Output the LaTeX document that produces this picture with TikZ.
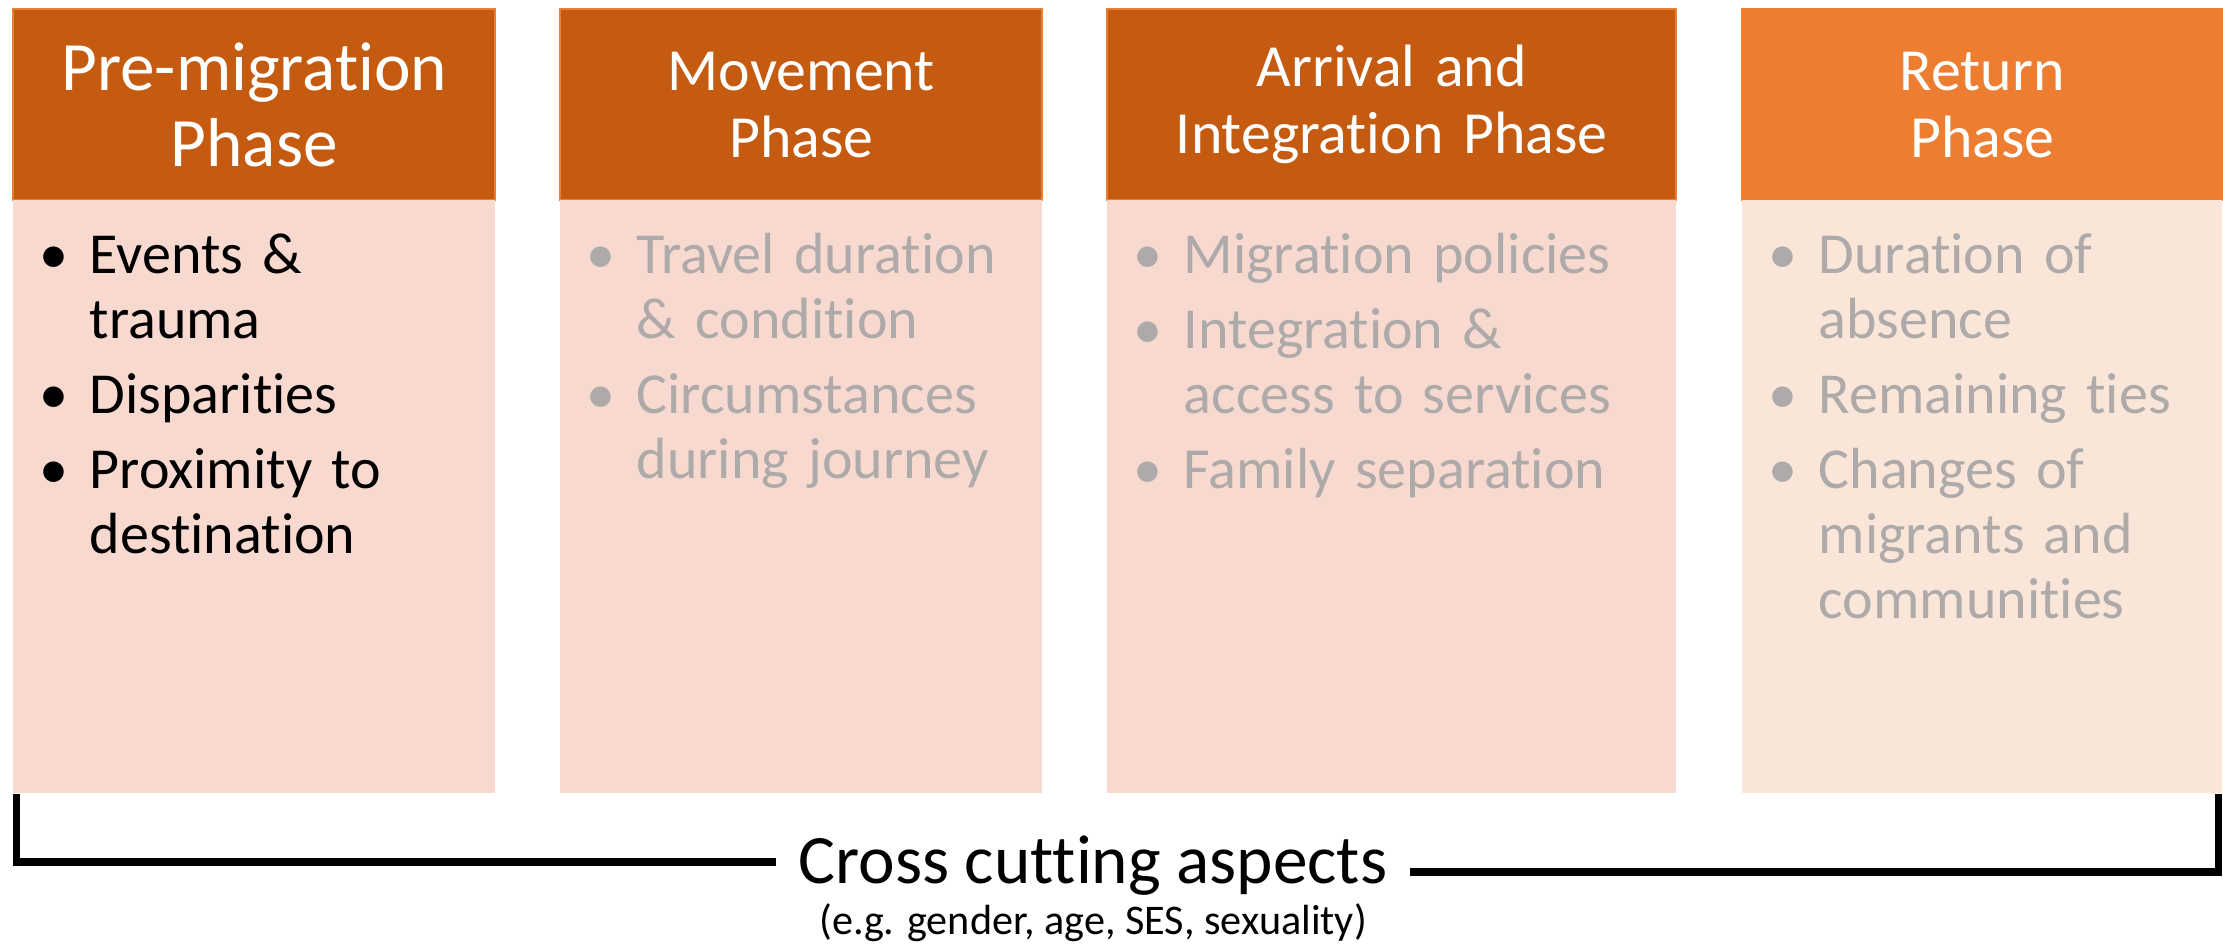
\documentclass[tikz,border=0pt]{standalone}
\usepackage{fontspec}
\setmainfont{Carlito}[Ligatures=NoCommon]

\definecolor{phasedark}{HTML}{C55A11}
\definecolor{phaselight}{HTML}{ED7D31}
\definecolor{bodypink}{HTML}{F8D9D0}
\definecolor{bodypeach}{HTML}{FAE6D9}
\definecolor{itemgray}{HTML}{AEAAAA}

% one bullet point with hanging indent
\newcommand{\bitem}[1]{\hangindent=0.77cm\hangafter=1\noindent\rlap{\makebox[0.82cm]{\textbullet}}\hspace{0.77cm}#1\par}

\begin{document}
\begin{tikzpicture}[x=0.01cm, y=-0.01cm,
	phasehead/.style={fill=phasedark, draw=phaselight, line width=0.6pt, text=white, align=center, inner sep=0pt, anchor=north west, minimum height=1.91cm},
	phasebody/.style={fill=bodypink, inner sep=0pt, anchor=north west, minimum height=5.93cm},
	itemlist/.style={anchor=base west, inner sep=0pt, text width=5.6cm, align=left, font=\fontsize{16.5}{18.5}\selectfont, execute at begin node=\setlength{\parskip}{0.1cm}},
	bracket/.style={line width=2.1pt}]

	% keep the margins of the page
	\useasboundingbox (0,0) rectangle (2223,947);

	% Pre-migration phase
	\node[phasehead, minimum width=4.82cm, text width=4.7cm, font=\fontsize{19.7}{21.6}\selectfont] (h1) at (12,8) {Pre-migration\\Phase};
	\node[phasebody, minimum width=4.82cm] (b1) at (12,199) {};
	\node[itemlist] (t1) at ([yshift=-0.74cm]b1.north west) {\bitem{Events \&\newline trauma}\bitem{Disparities}\bitem{Proximity to\newline destination}};

	% Movement phase
	\node[phasehead, minimum width=4.82cm, text width=4.7cm, font=\fontsize{17}{19.1}\selectfont] (h2) at (559,8) {Movement\\Phase};
	\node[phasebody, minimum width=4.82cm] (b2) at (559,199) {};
	\node[itemlist, text=itemgray] (t2) at ([yshift=-0.74cm]b2.north west) {\bitem{Travel duration\newline\& condition}\bitem{Circumstances\newline during journey}};

	% Arrival and integration phase
	\node[phasehead, minimum width=5.69cm, text width=5.6cm, font=\fontsize{17}{19.1}\selectfont] (h3) at (1106,8) {Arrival and\\Integration Phase};
	\node[phasebody, minimum width=5.69cm] (b3) at (1106,199) {};
	\node[itemlist, text=itemgray] (t3) at ([yshift=-0.74cm]b3.north west) {\bitem{Migration policies}\bitem{Integration \&\newline access to services}\bitem{Family separation}};

	% Return phase
	\node[phasehead, fill=phaselight, minimum width=4.80cm, text width=4.7cm, font=\fontsize{17}{19.1}\selectfont] (h4) at (1741,8) {Return\\Phase};
	\node[phasebody, fill=bodypeach, minimum width=4.80cm] (b4) at (1741,199) {};
	\node[itemlist, text=itemgray] (t4) at ([yshift=-0.74cm]b4.north west) {\bitem{Duration of\newline absence}\bitem{Remaining ties}\bitem{Changes of\newline migrants and\newline communities}};

	% Cross cutting aspects bracket
	\node[font=\fontsize{19.7}{23}\selectfont, inner ysep=0pt, inner xsep=0.22cm, anchor=base] (cross) at (1093,883) {Cross cutting aspects};
	\node[font=\fontsize{12}{13}\selectfont, inner sep=0pt, anchor=base] (examples) at ([yshift=-0.51cm]cross.base) {(e.g. gender, age, SES, sexuality)};
	\draw[bracket] ([xshift=0.045cm]b1.south west) |- ([yshift=0.03cm]cross.west);
	\draw[bracket] ([yshift=-0.07cm]cross.east) -| ([xshift=-0.04cm]b4.south east);
\end{tikzpicture}
\end{document}
